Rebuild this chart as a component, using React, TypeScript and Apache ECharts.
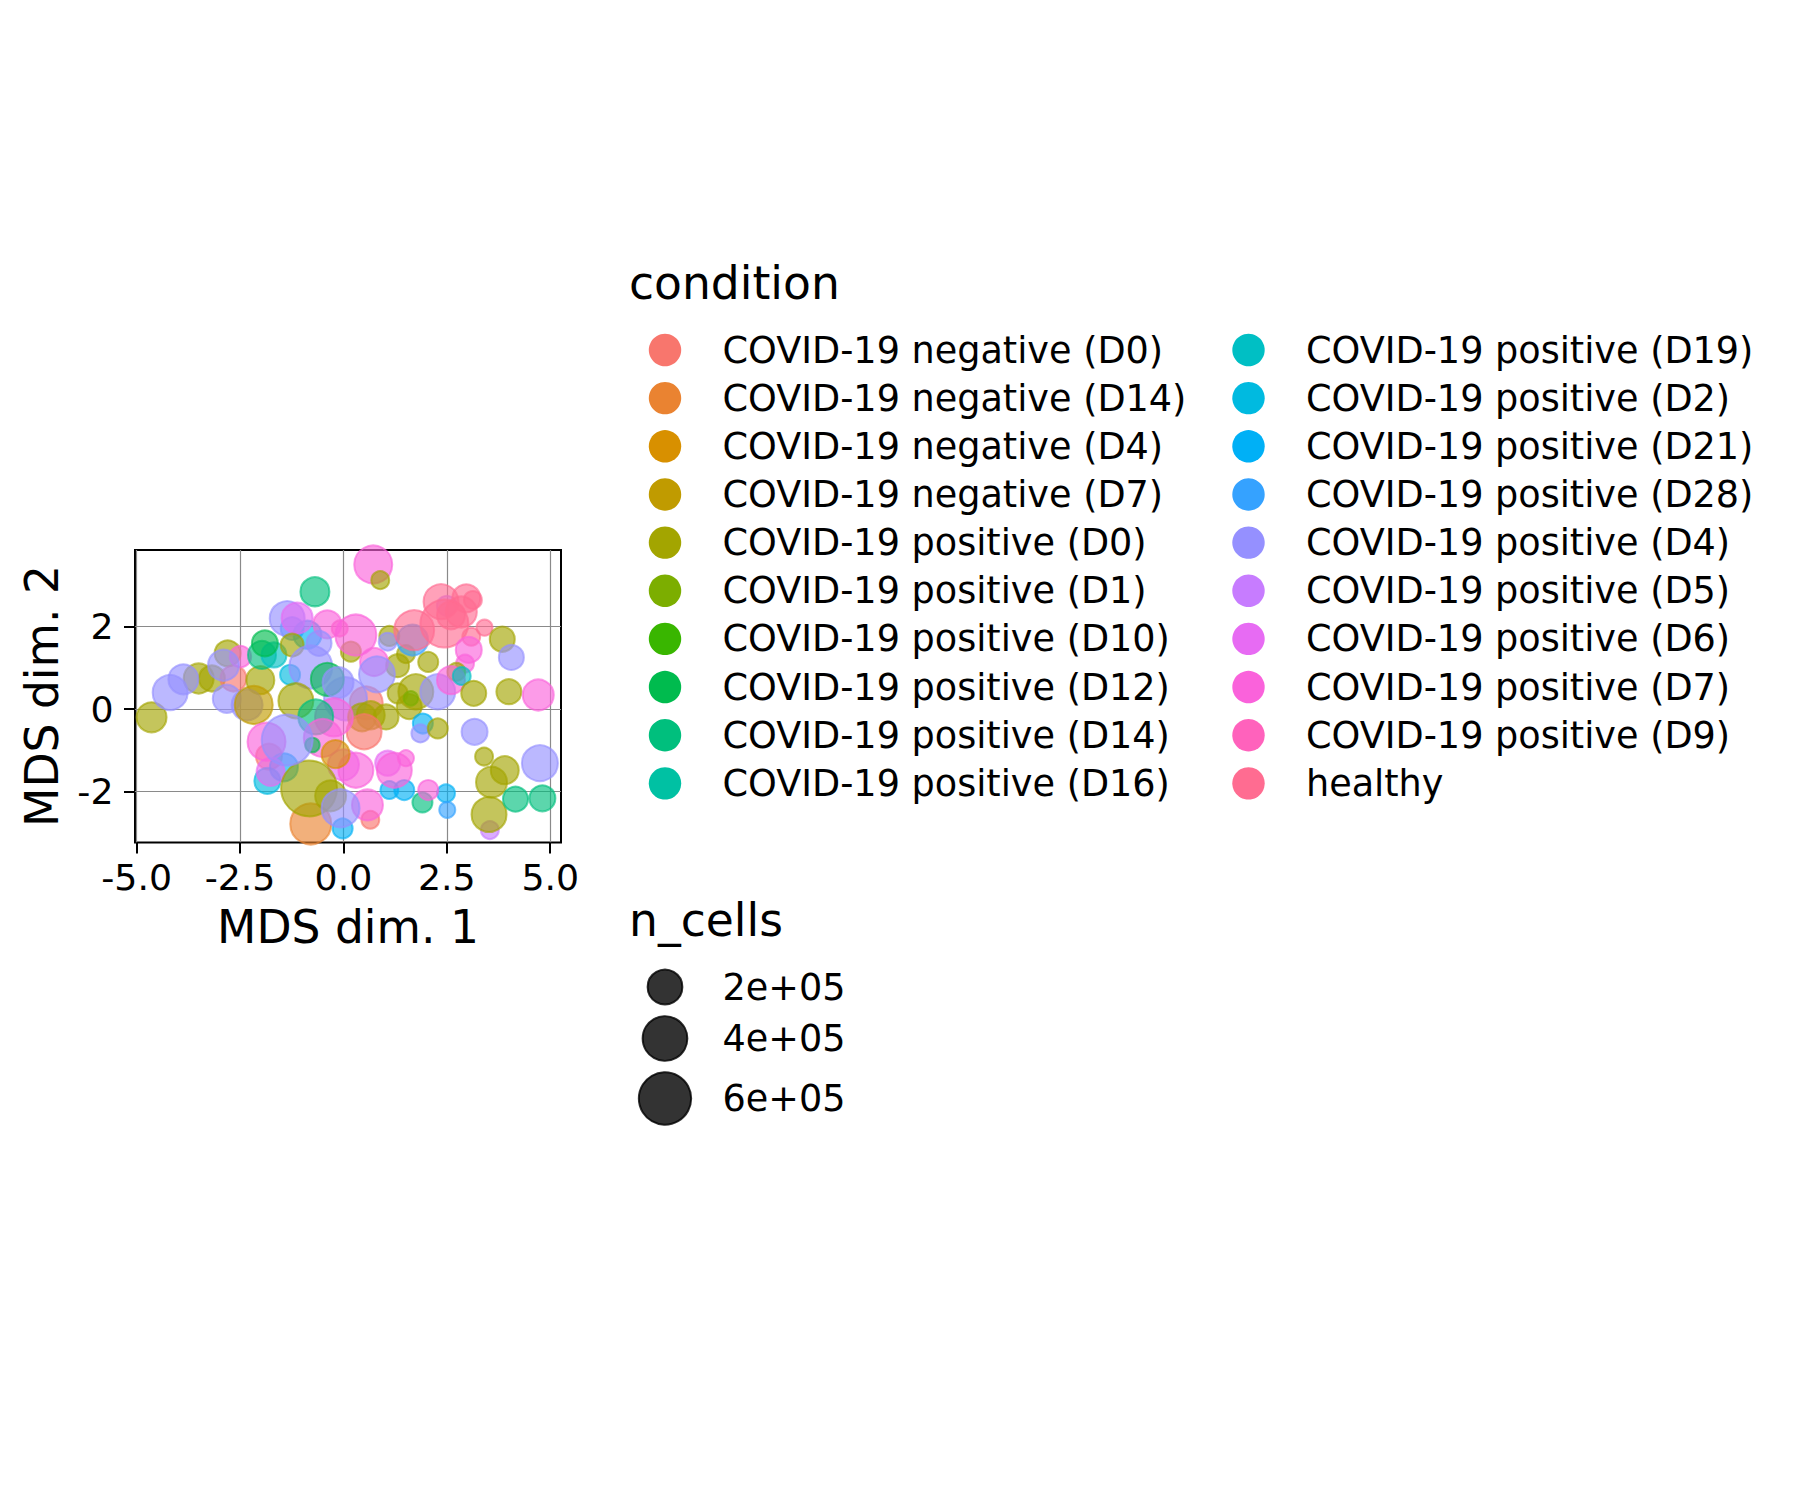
import React, { useEffect, useRef } from "react";
import * as echarts from "echarts";

const conditionLevels = [
  "COVID-19 negative (D0)",
  "COVID-19 negative (D14)",
  "COVID-19 negative (D4)",
  "COVID-19 negative (D7)",
  "COVID-19 positive (D0)",
  "COVID-19 positive (D1)",
  "COVID-19 positive (D10)",
  "COVID-19 positive (D12)",
  "COVID-19 positive (D14)",
  "COVID-19 positive (D16)",
  "COVID-19 positive (D19)",
  "COVID-19 positive (D2)",
  "COVID-19 positive (D21)",
  "COVID-19 positive (D28)",
  "COVID-19 positive (D4)",
  "COVID-19 positive (D5)",
  "COVID-19 positive (D6)",
  "COVID-19 positive (D7)",
  "COVID-19 positive (D9)",
  "healthy",
];

const conditionColors = [
  "#F8766D", "#EA8331", "#D89000", "#C09B00", "#A3A500",
  "#7CAE00", "#39B600", "#00BB4E", "#00BF7D", "#00C1A3",
  "#00BFC4", "#00BAE0", "#00B0F6", "#35A2FF", "#9590FF",
  "#C77CFF", "#E76BF3", "#FA62DB", "#FF62BC", "#FF6C91",
];

const mdsDim1 = [
  -4.64, -3.5, -3.18, -4.19, -3.87, -2.8, -2.66, -2.49, -2.9, -2.82,
  -2.01, -2.33, -2.17, -1.97, -1.68, -1.9, -1.24, -0.87, -1.36, -1.12,
  -0.69, -0.09, -0.39, -1.24, -0.59, -1.29, -0.79, -1.15, 0.18, 1.11,
  1.07, 0.3, 0.72, 0.89, 1.51, 1.31, 2.05, 0.55, 0.05, 0.74,
  -0.39, -0.13, 0.81, 0.45, 0.66, 1.03, 0.5, -0.23, -0.67, -0.5,
  1.59, 1.31, 1.75, 1.63, 2.28, 1.67, 2.5, 1.71, 2.36, 2.97,
  3.13, 2.85, 2.6, 2.44, 3.41, 3.09, 3.03, 2.94, 2.73, 2.6,
  2.86, 3.15, 4.0, 4.71, 3.84, 4.06, 3.17, 1.92, 1.86, 2.28,
  3.4, 3.9, 3.58, 3.54, 3.52, 4.75, 4.16, 4.81, 2.48, 2.51,
  1.91, 2.05, 1.47, 1.11, 1.07, 1.23, 1.51, 0.65, 0.58, 0.0,
  0.3, -0.19, -0.02, -0.79, -1.8, -1.84, -1.44, -1.76, -0.31, -0.83,
  -0.07, -0.75, -1.86, -1.36,
];

const mdsDim2 = [
  -0.2, 0.74, 0.74, 0.4, 0.72, 1.35, 0.74, 1.27, 1.06, 0.25,
  0.7, 0.1, 0.1, 1.31, 1.31, 1.59, 1.95, 1.8, 2.19, 2.2,
  2.84, 1.95, 2.05, 1.55, 1.59, 0.83, 1.02, 0.2, 1.39, 1.77,
  1.63, 1.79, 3.5, 3.12, 1.33, 1.05, 1.14, 0.15, 0.25, 1.14,
  0.72, 0.64, 0.84, -0.2, -0.15, -0.19, -0.55, -0.2, -0.19, -0.7,
  0.06, 0.38, 0.42, 0.26, 0.42, 1.67, 2.5, 1.91, 2.6, 2.68,
  2.64, 2.35, 2.27, 2.07, 1.97, 1.75, 1.43, 1.1, 0.9, 0.7,
  0.8, 0.38, 0.42, 0.34, 1.69, 1.25, -0.55, -0.35, -0.59, -0.47,
  -1.15, -1.48, -1.77, -2.93, -2.55, -1.31, -2.18, -2.16, -2.04, -2.44,
  -2.26, -1.96, -1.96, -1.96, -1.31, -1.48, -1.19, -2.68, -2.32, -1.35,
  -1.48, -1.09, -2.89, -2.78, -1.15, -1.74, -1.41, -1.52, -2.1, -1.92,
  -2.4, -0.87, -0.79, -0.75,
];

const nCells = [
  129000, 129000, 81000, 204000, 129000, 81000, 81000, 40000, 143000, 104000,
  104000, 143000, 258000, 104000, 71000, 81000, 52000, 104000, 204000, 143000,
  116000, 10000, 104000, 52000, 71000, 30000, 361000, 204000, 30000, 30000,
  18000, 318000, 258000, 18000, 18000, 52000, 30000, 172000, 361000, 104000,
  172000, 143000, 221000, 104000, 104000, 71000, 204000, 258000, 204000, 258000,
  71000, 30000, 204000, 5000, 204000, 143000, 30000, 297000, 204000, 104000,
  18000, 143000, 104000, 481000, 10000, 18000, 81000, 18000, 18000, 104000,
  18000, 71000, 71000, 143000, 71000, 71000, 81000, 30000, 18000, 30000,
  18000, 104000, 143000, 18000, 204000, 221000, 71000, 81000, 18000, 10000,
  30000, 30000, 30000, 18000, 71000, 204000, 10000, 18000, 143000, 143000,
  204000, 104000, 30000, 318000, 81000, 81000, 104000, 104000, 143000, 710000,
  258000, 5000, 258000, 562000,
];

const pointCondition = [
  4, 4, 4, 14, 14, 4, 0, 17, 14, 14,
  4, 14, 3, 8, 10, 7, 13, 12, 14, 16,
  8, 18, 17, 4, 14, 11, 14, 4, 4, 4,
  14, 17, 17, 4, 4, 4, 4, 0, 14, 17,
  7, 14, 14, 4, 4, 4, 0, 17, 8, 17,
  4, 4, 4, 5, 14, 13, 15, 19, 19, 19,
  19, 19, 19, 19, 19, 19, 17, 17, 4, 17,
  10, 4, 4, 17, 4, 14, 14, 12, 14, 4,
  4, 4, 4, 15, 4, 14, 8, 8, 12, 13,
  8, 17, 12, 12, 16, 17, 17, 0, 17, 16,
  17, 2, 12, 1, 0, 11, 12, 16, 4, 4,
  14, 7, 17, 14,
];

const xTicks = [-5, -2.5, 0, 2.5, 5];
const yTicks = [-2, 0, 2];
const sizeBreaks = [200000, 400000, 600000];
const sizeBreakLabels = ["2e+05", "4e+05", "6e+05"];

const X_MIN = -5.04;
const X_MAX = 5.26;
const Y_MIN = -3.23;
const Y_MAX = 3.85;

const FONT = '"DejaVu Sans", Verdana, sans-serif';

function outerDiameter(n: number): number {
  return 12.7 + 17 * Math.sqrt(n / 100000);
}

function rgba(hex: string, a: number): string {
  const r = parseInt(hex.slice(1, 3), 16);
  const g = parseInt(hex.slice(3, 5), 16);
  const b = parseInt(hex.slice(5, 7), 16);
  return `rgba(${r},${g},${b},${a})`;
}

export default function App() {
  const ref = useRef<HTMLDivElement>(null);

  useEffect(() => {
    if (!ref.current) return;
    const chart = echarts.init(ref.current, undefined, { renderer: "svg" });

    const data = mdsDim1.map((x, i) => {
      const c = conditionColors[pointCondition[i]];
      return {
        value: [x, mdsDim2[i], nCells[i]],
        itemStyle: { color: rgba(c, 0.8), borderColor: rgba(c, 0.8), borderWidth: 2 },
      };
    });

    const graphics: any[] = [];
    const txt = (text: string, x: number, y: number, size: number, align = "left", rotation = 0) => ({
      type: "text",
      x,
      y,
      rotation,
      silent: true,
      style: {
        text,
        x: 0,
        y: 0,
        fill: "#000",
        font: `${size}px ${FONT}`,
        fontSize: size,
        fontFamily: FONT,
        align,
        verticalAlign: "middle",
        textAlign: align,
        textVerticalAlign: "middle",
      },
    });

    graphics.push(txt("MDS dim. 1", 348, 927, 45.6, "center"));
    graphics.push(txt("MDS dim. 2", 42, 696, 45.6, "center", Math.PI / 2));

    // condition legend
    graphics.push(txt("condition", 629, 283, 45.6));
    const rowH = 48.15;
    conditionLevels.forEach((lab, i) => {
      const col = i < 10 ? 0 : 1;
      const row = i % 10;
      const cx = col === 0 ? 665 : 1248.5;
      const cy = 350 + row * rowH;
      graphics.push({
        type: "circle",
        silent: true,
        shape: { cx, cy, r: 16.2 },
        style: { fill: conditionColors[i] },
      });
      graphics.push(txt(lab, cx + 57.5, cy, 36.6));
    });

    // size legend
    graphics.push(txt("n_cells", 629, 920, 45.6));
    const sizeY = [987, 1038.5, 1098.5];
    sizeBreaks.forEach((n, i) => {
      const d = outerDiameter(n);
      graphics.push({
        type: "circle",
        silent: true,
        shape: { cx: 665, cy: sizeY[i], r: (d - 2) / 2 },
        style: { fill: "rgba(0,0,0,0.8)", stroke: "rgba(0,0,0,0.8)", lineWidth: 2 },
      });
      graphics.push(txt(sizeBreakLabels[i], 722.5, sizeY[i], 36.6));
    });

    chart.setOption({
      animation: false,
      backgroundColor: "#ffffff",
      grid: {
        left: 135,
        top: 550,
        width: 426,
        height: 292.5,
        show: true,
        borderColor: "#000",
        borderWidth: 2,
        backgroundColor: "transparent",
        containLabel: false,
      },
      xAxis: {
        type: "value",
        min: X_MIN,
        max: X_MAX,
        position: "bottom",
        axisLine: { show: false, onZero: false },
        axisTick: {
          show: true,
          length: 11,
          inside: false,
          customValues: xTicks,
          lineStyle: { color: "#000", width: 2 },
        },
        axisLabel: {
          customValues: xTicks,
          formatter: (v: number) => v.toFixed(1),
          fontSize: 36.3,
          fontFamily: FONT,
          color: "#000",
          margin: 17,
        },
        splitLine: { show: true, lineStyle: { color: "#8a8a8a", width: 1.2 } },
      },
      yAxis: {
        type: "value",
        min: Y_MIN,
        max: Y_MAX,
        position: "left",
        axisLine: { show: false, onZero: false },
        axisTick: {
          show: true,
          length: 11,
          inside: false,
          customValues: yTicks,
          lineStyle: { color: "#000", width: 2 },
        },
        axisLabel: {
          customValues: yTicks,
          formatter: (v: number) => String(Math.round(v)),
          fontSize: 36.3,
          fontFamily: FONT,
          color: "#000",
          margin: 21.5,
        },
        splitLine: { show: true, lineStyle: { color: "#8a8a8a", width: 1.2 } },
      },
      series: [
        {
          type: "scatter",
          clip: true,
          data,
          symbol: "circle",
          symbolSize: (val: number[]) => outerDiameter(val[2]) - 2,
          emphasis: { disabled: true },
        },
      ],
      graphic: { elements: graphics },
    });

    return () => chart.dispose();
  }, []);

  return (
    <div
      ref={ref}
      style={{ position: "absolute", left: 0, top: 0, width: 1800, height: 1500, background: "#fff" }}
    />
  );
}
